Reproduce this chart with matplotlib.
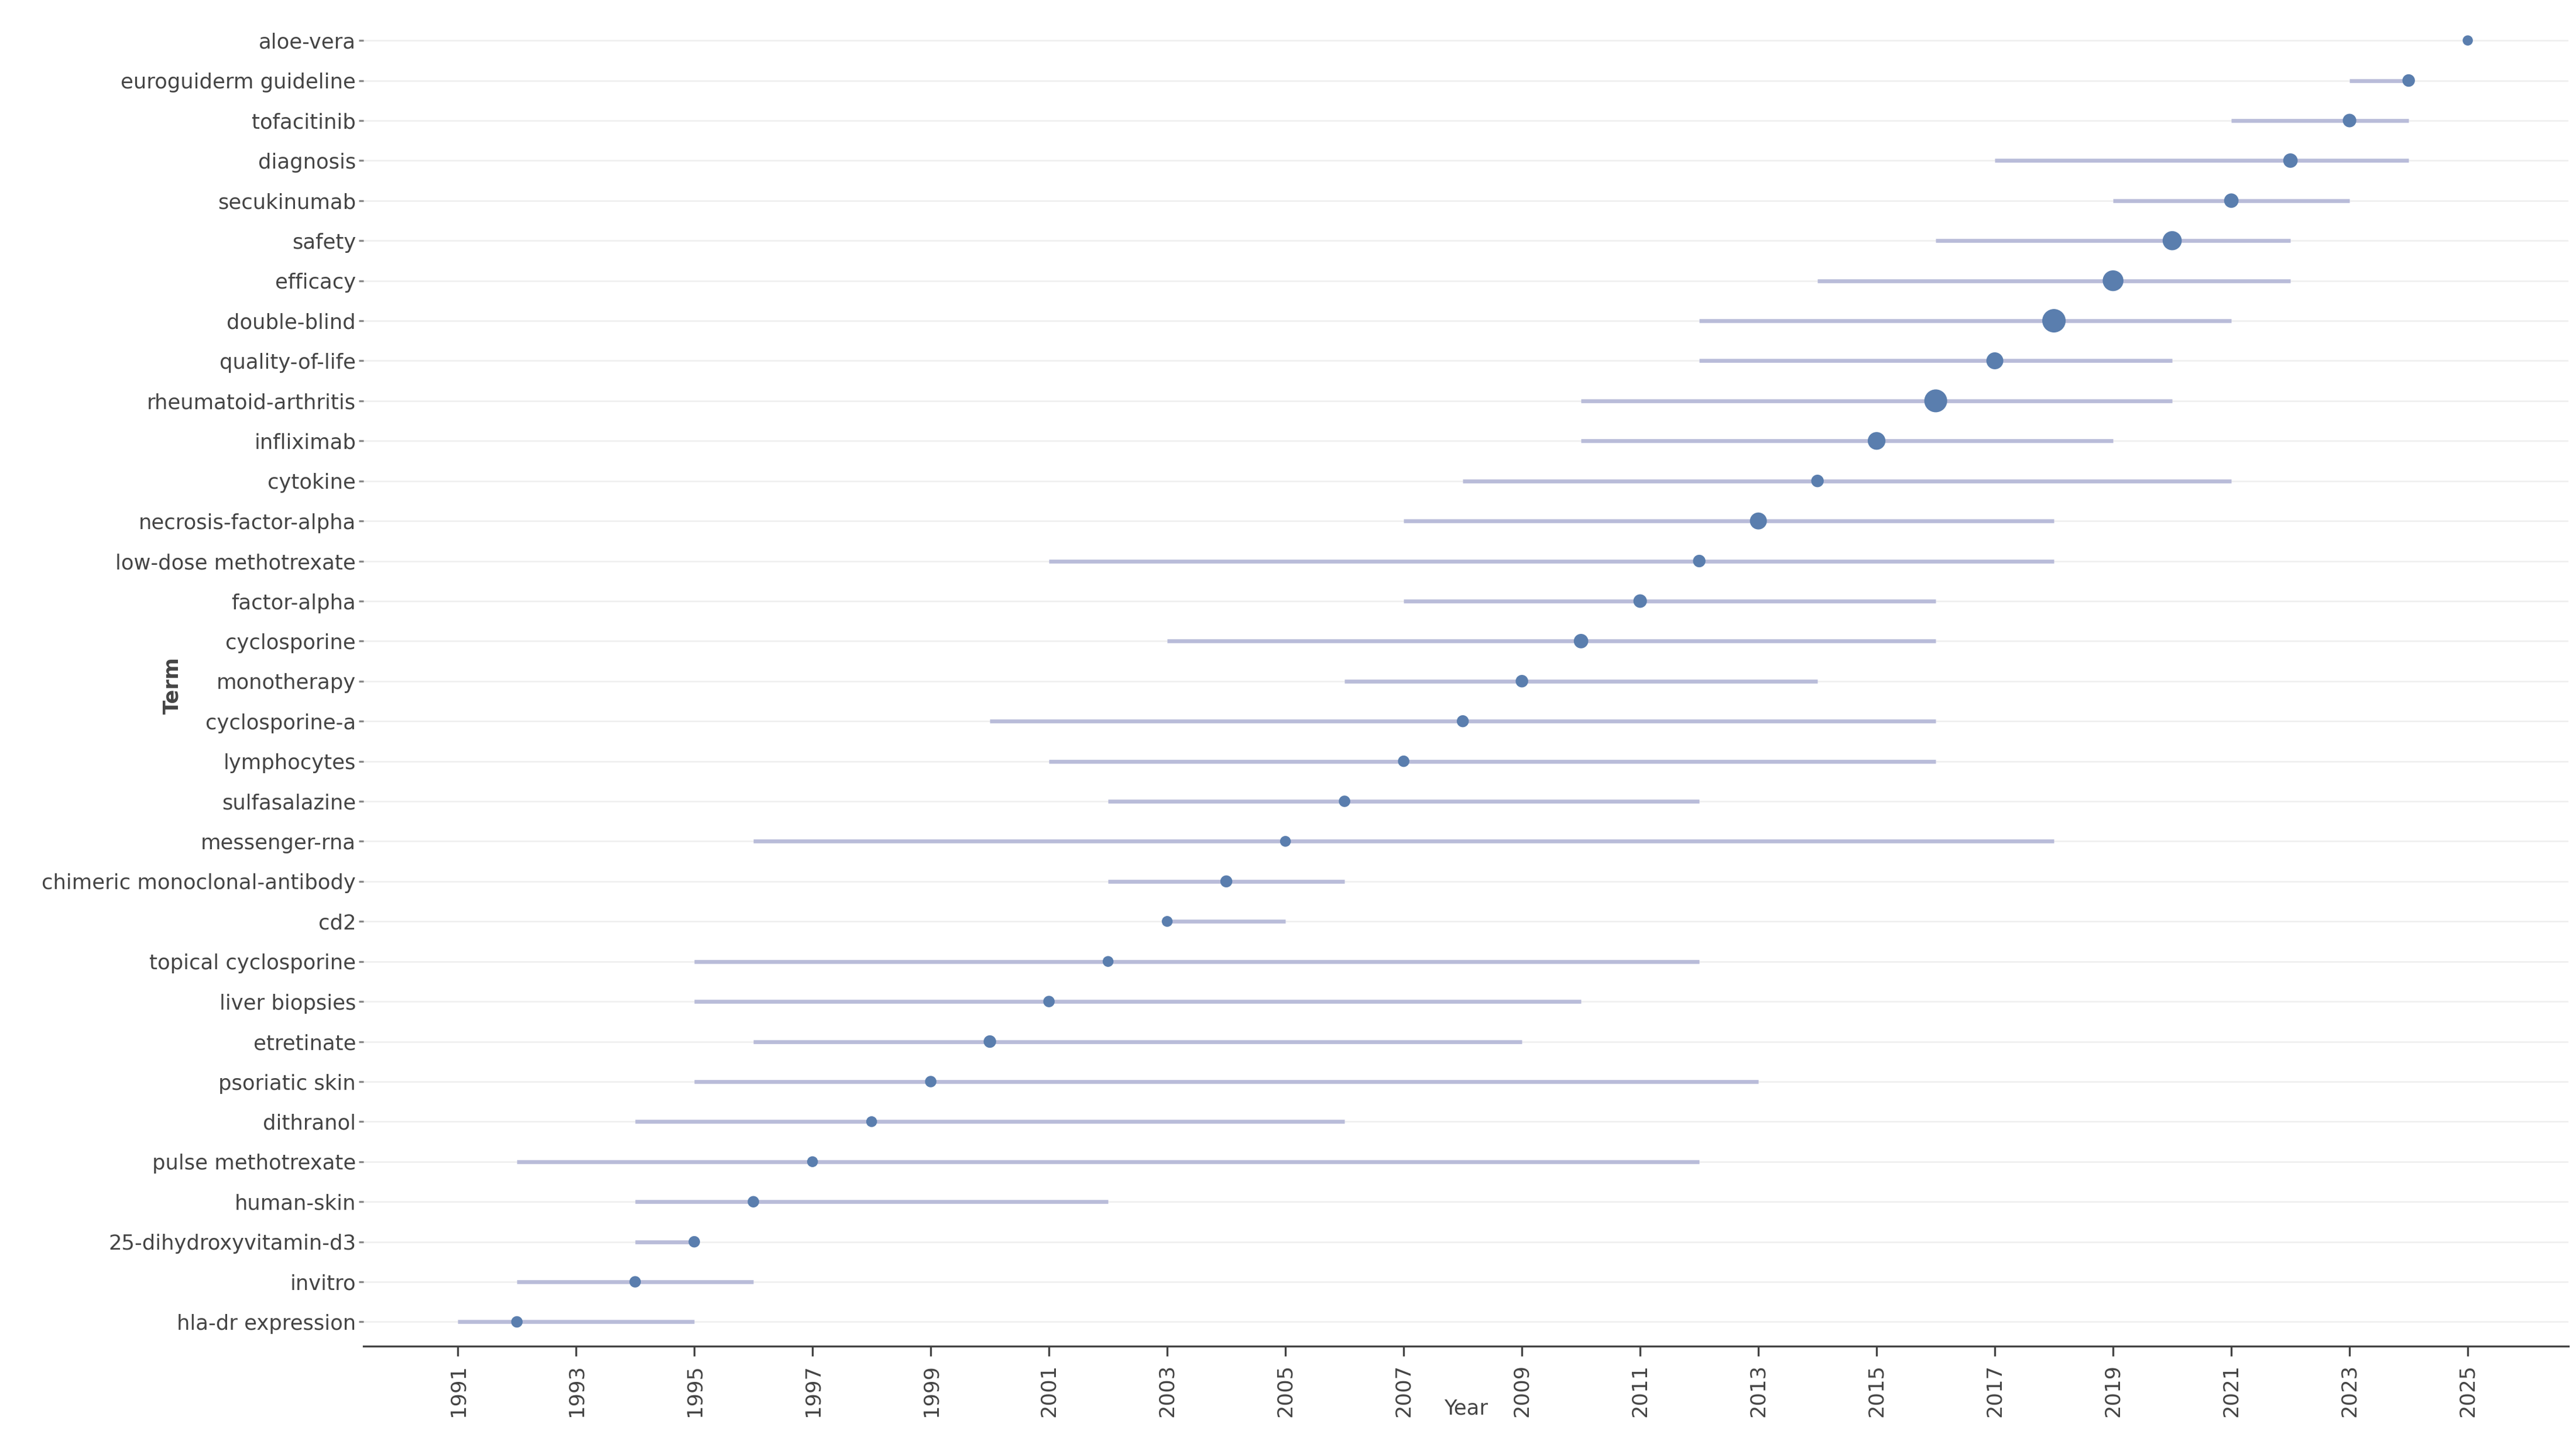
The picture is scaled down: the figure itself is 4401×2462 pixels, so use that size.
import matplotlib
matplotlib.use("Agg")
import matplotlib.pyplot as plt

terms = ["hla-dr expression","invitro","25-dihydroxyvitamin-d3","human-skin","pulse methotrexate",
         "dithranol","psoriatic skin","etretinate","liver biopsies","topical cyclosporine","cd2",
         "chimeric monoclonal-antibody","messenger-rna","sulfasalazine","lymphocytes","cyclosporine-a",
         "monotherapy","cyclosporine","factor-alpha","low-dose methotrexate","necrosis-factor-alpha",
         "cytokine","infliximab","rheumatoid-arthritis","quality-of-life","double-blind","efficacy",
         "safety","secukinumab","diagnosis","tofacitinib","euroguiderm guideline","aloe-vera"]
year_start = [1991,1992,1994,1994,1992,1994,1995,1996,1995,1995,2003,2002,1996,2002,2001,2000,
              2006,2003,2007,2001,2007,2008,2010,2010,2012,2012,2014,2016,2019,2017,2021,2023,2025]
year_median = [1992,1994,1995,1996,1997,1998,1999,2000,2001,2002,2003,2004,2005,2006,2007,2008,
               2009,2010,2011,2012,2013,2014,2015,2016,2017,2018,2019,2020,2021,2022,2023,2024,2025]
year_end = [1995,1996,1995,2002,2012,2006,2013,2009,2010,2012,2005,2006,2018,2012,2016,2016,
            2014,2016,2016,2018,2018,2021,2019,2020,2020,2021,2022,2022,2023,2024,2024,2024,2025]
freq = [10,10,10,10,9,9,10,12,10,9,9,11,9,10,10,11,12,16,14,12,22,12,24,40,22,42,33,28,16,16,14,12,8]

fig, ax = plt.subplots(figsize=(14.67, 8.207), dpi=300)
fig.subplots_adjust(left=0.141, right=0.997, top=0.983, bottom=0.066)
y = list(range(len(terms)))
ax.hlines(y, year_start, year_end, color="#b9bcd9", lw=1.6, zorder=2)
ax.scatter(year_median, y, s=[f*2.2 for f in freq], color="#5a7eae", zorder=3, edgecolors="none")
ax.set_yticks(y)
ax.set_yticklabels(terms, fontsize=8.5, color="#444444")
ax.set_ylim(-0.6, len(terms) - 0.6)
ticks = list(range(1991, 2026, 2))
ax.set_xticks(ticks)
ax.set_xticklabels([str(t) for t in ticks], rotation=90, fontsize=8.5, color="#444444")
ax.set_xlim(1989.4, 2026.7)
for yy in y:
    ax.axhline(yy, color="#eeeeee", lw=0.6, zorder=1)
for s in ["left", "top", "right"]:
    ax.spines[s].set_visible(False)
ax.spines["bottom"].set_color("#444444")
ax.tick_params(axis="y", length=2, color="#888888", pad=1)
ax.tick_params(axis="x", length=4, color="#444444")
ax.set_ylabel("Term", fontsize=8.5, fontweight="bold", color="#444444")
ax.yaxis.set_label_coords(-0.082, 0.5)
ax.set_xlabel("Year", fontsize=8.5, color="#444444")
ax.xaxis.set_label_coords(0.5, -0.04)
fig.savefig("out.png", dpi=300)
